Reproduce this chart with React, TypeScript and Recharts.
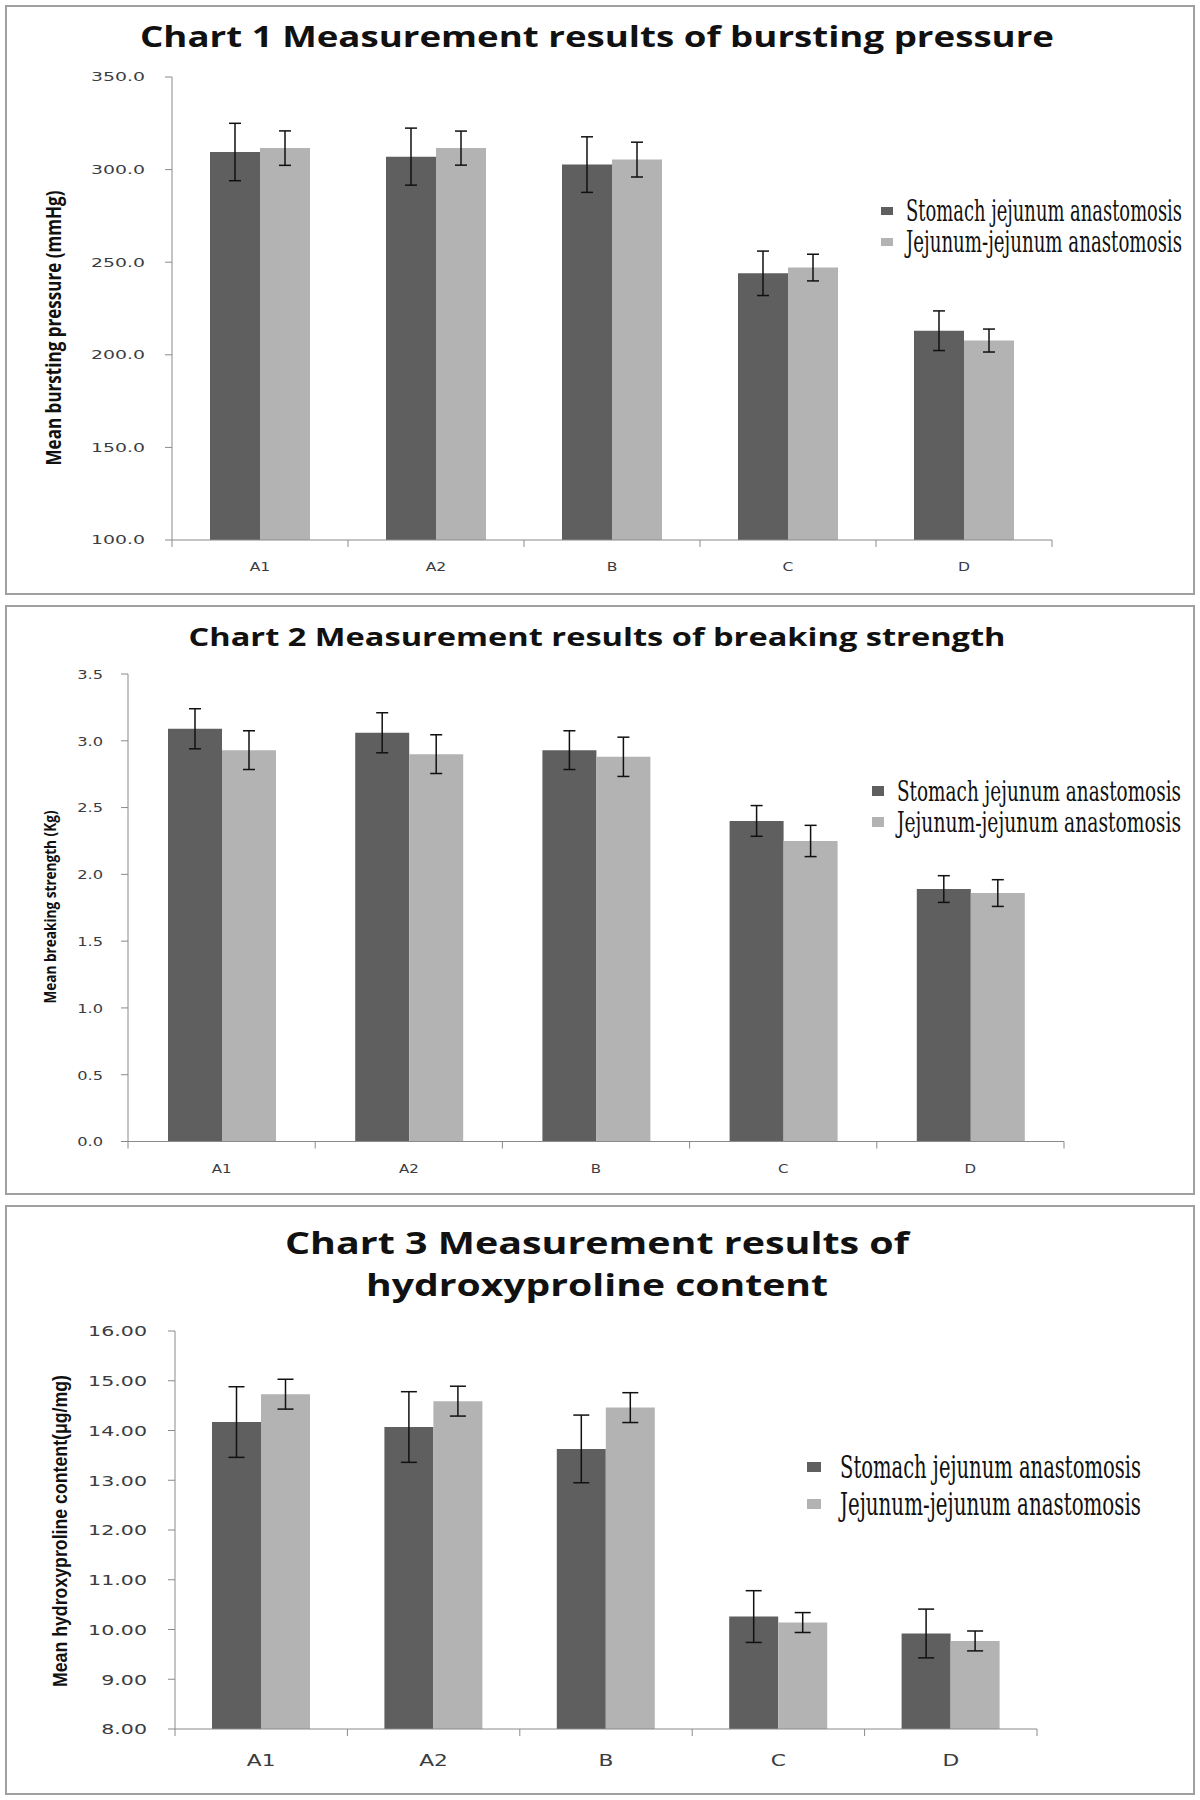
import React from "react";
import { BarChart, Bar, XAxis, YAxis, ErrorBar, Legend } from "recharts";

// ---- data ----
const CATEGORIES = ["A1", "A2", "B", "C", "D"];
const SERIES_NAMES = ["Stomach jejunum anastomosis", "Jejunum-jejunum anastomosis"];

const BURST_STOMACH = [309.5, 307, 302.7, 244, 213];
const BURST_STOMACH_ERR = [15.5, 15.4, 15, 12, 10.7];
const BURST_JEJUNUM = [311.6, 311.6, 305.4, 247.1, 207.7];
const BURST_JEJUNUM_ERR = [9.3, 9.2, 9.4, 7.2, 6.2];
const BURST_TICKS = [100, 150, 200, 250, 300, 350];

const BREAK_STOMACH = [3.09, 3.06, 2.93, 2.4, 1.89];
const BREAK_STOMACH_ERR = [0.15, 0.15, 0.145, 0.115, 0.1];
const BREAK_JEJUNUM = [2.93, 2.9, 2.88, 2.25, 1.86];
const BREAK_JEJUNUM_ERR = [0.145, 0.145, 0.147, 0.117, 0.1];
const BREAK_TICKS = [0, 0.5, 1, 1.5, 2, 2.5, 3, 3.5];

const HYP_STOMACH = [14.17, 14.07, 13.63, 10.26, 9.92];
const HYP_STOMACH_ERR = [0.71, 0.71, 0.68, 0.52, 0.49];
const HYP_JEJUNUM = [14.73, 14.59, 14.46, 10.14, 9.77];
const HYP_JEJUNUM_ERR = [0.3, 0.3, 0.3, 0.2, 0.2];
const HYP_TICKS = [8, 9, 10, 11, 12, 13, 14, 15, 16];

const DARK = "#5f5f5f";
const LIGHT = "#b3b3b3";
const AXIS = "#8a8a8a";
const TICK_TEXT = "#3a3c42";
const PANEL_W = 1190;
const PANEL_H = 590;
const LEGEND_SX = 0.6; // legend font is very condensed in the original

const rows = (a: number[], ae: number[], b: number[], be: number[]) =>
  CATEGORIES.map((c, i) => ({ cat: c, s: a[i], se: ae[i], j: b[i], je: be[i] }));

const YTick = (props: any) => {
  const { x, y, payload, fmt, size, sx } = props;
  return (
    <g transform={`translate(${x},${y}) scale(${sx},1)`}>
      <text textAnchor="end" dominantBaseline="central" fontSize={size} fontFamily="DejaVu Sans" fill={TICK_TEXT}>
        {fmt(payload.value)}
      </text>
    </g>
  );
};

const XTick = (props: any) => {
  const { x, y, payload, index, band, gap, size, sx } = props;
  return (
    <g>
      <line x1={x - band / 2} x2={x - band / 2} y1={y} y2={y + 7} stroke={AXIS} />
      {index === CATEGORIES.length - 1 && (
        <line x1={x + band / 2} x2={x + band / 2} y1={y} y2={y + 7} stroke={AXIS} />
      )}
      <g transform={`translate(${x},${y + gap}) scale(${sx},1)`}>
        <text textAnchor="middle" dominantBaseline="central" fontSize={size} fontFamily="DejaVu Sans" fill={TICK_TEXT}>
          {payload.value}
        </text>
      </g>
    </g>
  );
};

const LegendBox = (props: any) => {
  const { payload, cfg } = props;
  // keep the series order, not the alphabetical one
  const items = [...(payload || [])].sort(
    (a: any, b: any) => SERIES_NAMES.indexOf(a.value) - SERIES_NAMES.indexOf(b.value)
  );
  return (
    <svg width={cfg.w} height={cfg.h} style={{ display: "block" }}>
      {items.map((p: any, i: number) => {
        const cy = cfg.rowY[i];
        return (
          <g key={i}>
            <rect x={0} y={cy - cfg.sqH / 2} width={cfg.sqW} height={cfg.sqH} fill={p.color} />
            <g transform={`translate(${cfg.textX},${cy + cfg.font * 0.36}) scale(${LEGEND_SX},1)`}>
              <text
                x={0}
                y={0}
                fontSize={cfg.font}
                fontFamily="DejaVu Serif"
                fill="#111"
                textLength={cfg.len / LEGEND_SX}
                lengthAdjust="spacingAndGlyphs"
              >
                {p.value}
              </text>
            </g>
          </g>
        );
      })}
    </svg>
  );
};

const Panel = ({ cfg, data }: any) => {
  const band = (cfg.right - cfg.left) / CATEGORIES.length;
  return (
    <div style={{ position: "absolute", left: 5, top: cfg.top, width: PANEL_W, height: PANEL_H }}>
      <BarChart
        width={PANEL_W}
        height={PANEL_H}
        data={data}
        barGap={0}
        margin={{ top: cfg.plotTop, right: PANEL_W - cfg.right, bottom: 0, left: 0 }}
      >
        <XAxis
          dataKey="cat"
          height={PANEL_H - cfg.plotBottom}
          tickLine={false}
          tickSize={0}
          tickMargin={0}
          axisLine={{ stroke: AXIS }}
          interval={0}
          tick={<XTick band={band} gap={cfg.xGap} size={cfg.xFont} sx={cfg.xSx} />}
        />
        <YAxis
          type="number"
          width={cfg.left}
          domain={[cfg.ticks[0], cfg.ticks[cfg.ticks.length - 1]]}
          ticks={cfg.ticks}
          interval={0}
          tickSize={7}
          tickMargin={cfg.tickMargin}
          tickLine={{ stroke: AXIS }}
          axisLine={{ stroke: AXIS }}
          tick={<YTick fmt={cfg.fmt} size={cfg.yFont} sx={cfg.ySx} />}
        />
        <Legend
          layout="horizontal"
          verticalAlign="middle"
          align="center"
          wrapperStyle={{ left: cfg.legend.x, top: cfg.legend.y, width: cfg.legend.w, height: cfg.legend.h }}
          content={<LegendBox cfg={cfg.legend} />}
        />
        <Bar dataKey="s" name={SERIES_NAMES[0]} fill={DARK} barSize={cfg.barSize} isAnimationActive={false}>
          <ErrorBar dataKey="se" width={cfg.cap} stroke="#111" strokeWidth={1.5} />
        </Bar>
        <Bar dataKey="j" name={SERIES_NAMES[1]} fill={LIGHT} barSize={cfg.barSize} isAnimationActive={false}>
          <ErrorBar dataKey="je" width={cfg.cap} stroke="#111" strokeWidth={1.5} />
        </Bar>
      </BarChart>
      <svg width={PANEL_W} height={PANEL_H} style={{ position: "absolute", left: 0, top: 0, pointerEvents: "none" }}>
        {cfg.title.map((t: any, i: number) => (
          <text
            key={i}
            x={592}
            y={t.y}
            textAnchor="middle"
            fontSize={cfg.titleFont}
            fontWeight={700}
            fontFamily="Open Sans"
            fill="#111"
            textLength={t.len}
            lengthAdjust="spacingAndGlyphs"
          >
            {t.text}
          </text>
        ))}
        <text
          transform={`translate(${cfg.yLabel.cx},${cfg.yLabel.cy}) rotate(-90)`}
          textAnchor="middle"
          dominantBaseline="central"
          fontSize={cfg.yLabel.size}
          fontWeight={700}
          fontFamily={cfg.yLabel.family}
          fill="#111"
          textLength={cfg.yLabel.len}
          lengthAdjust="spacingAndGlyphs"
        >
          {cfg.yLabel.text}
        </text>
      </svg>
      <div
        style={{
          position: "absolute",
          left: 0,
          top: 0,
          width: PANEL_W,
          height: PANEL_H,
          border: "2px solid #a0a0a0",
          boxSizing: "border-box",
          pointerEvents: "none",
        }}
      />
    </div>
  );
};

const CHART1 = {
  top: 5,
  left: 167,
  right: 1047,
  plotTop: 72,
  plotBottom: 535,
  ticks: BURST_TICKS,
  fmt: (v: number) => v.toFixed(1),
  yFont: 13,
  ySx: 1.45,
  tickMargin: 20,
  xFont: 12,
  xSx: 1.3,
  xGap: 27,
  barSize: 50,
  cap: 6,
  titleFont: 28,
  title: [{ text: "Chart 1 Measurement results of bursting pressure", y: 42, len: 914 }],
  yLabel: { text: "Mean bursting pressure (mmHg)", cx: 47, cy: 323, len: 275, size: 22, family: "Open Sans" },
  legend: { x: 876, y: 186, w: 305, h: 72, rowY: [20, 51], sqW: 12, sqH: 8, textX: 25, len: 276, font: 29 },
};

const CHART2 = {
  top: 605,
  left: 123,
  right: 1059,
  plotTop: 69,
  plotBottom: 536.5,
  ticks: BREAK_TICKS,
  fmt: (v: number) => v.toFixed(1),
  yFont: 13,
  ySx: 1.25,
  tickMargin: 18,
  xFont: 12,
  xSx: 1.25,
  xGap: 27.5,
  barSize: 54,
  cap: 6,
  titleFont: 25,
  title: [{ text: "Chart 2 Measurement results of breaking strength", y: 41, len: 817 }],
  yLabel: { text: "Mean breaking strength (Kg)", cx: 45, cy: 302, len: 193, size: 15.5, family: "Open Sans" },
  legend: { x: 867, y: 166, w: 315, h: 72, rowY: [20, 51], sqW: 12, sqH: 10, textX: 25, len: 284, font: 28 },
};

const CHART3 = {
  top: 1205,
  left: 170,
  right: 1032,
  plotTop: 126,
  plotBottom: 524,
  ticks: HYP_TICKS,
  fmt: (v: number) => v.toFixed(2),
  yFont: 14.5,
  ySx: 1.42,
  tickMargin: 21,
  xFont: 15,
  xSx: 1.45,
  xGap: 32,
  barSize: 49,
  cap: 8,
  titleFont: 30,
  title: [
    { text: "Chart 3 Measurement results of", y: 49, len: 624 },
    { text: "hydroxyproline content", y: 91, len: 462 },
  ],
  yLabel: { text: "Mean hydroxyproline content(μg/mg)", cx: 54, cy: 326, len: 312, size: 21, family: "Liberation Sans" },
  legend: { x: 802, y: 240, w: 345, h: 84, rowY: [22, 59], sqW: 14, sqH: 10, textX: 33, len: 301, font: 31 },
};

export default function App() {
  return (
    <div style={{ position: "relative", width: 1200, height: 1800, background: "#fff" }}>
      <style>{"body{margin:0}"}</style>
      <Panel cfg={CHART1} data={rows(BURST_STOMACH, BURST_STOMACH_ERR, BURST_JEJUNUM, BURST_JEJUNUM_ERR)} />
      <Panel cfg={CHART2} data={rows(BREAK_STOMACH, BREAK_STOMACH_ERR, BREAK_JEJUNUM, BREAK_JEJUNUM_ERR)} />
      <Panel cfg={CHART3} data={rows(HYP_STOMACH, HYP_STOMACH_ERR, HYP_JEJUNUM, HYP_JEJUNUM_ERR)} />
    </div>
  );
}
